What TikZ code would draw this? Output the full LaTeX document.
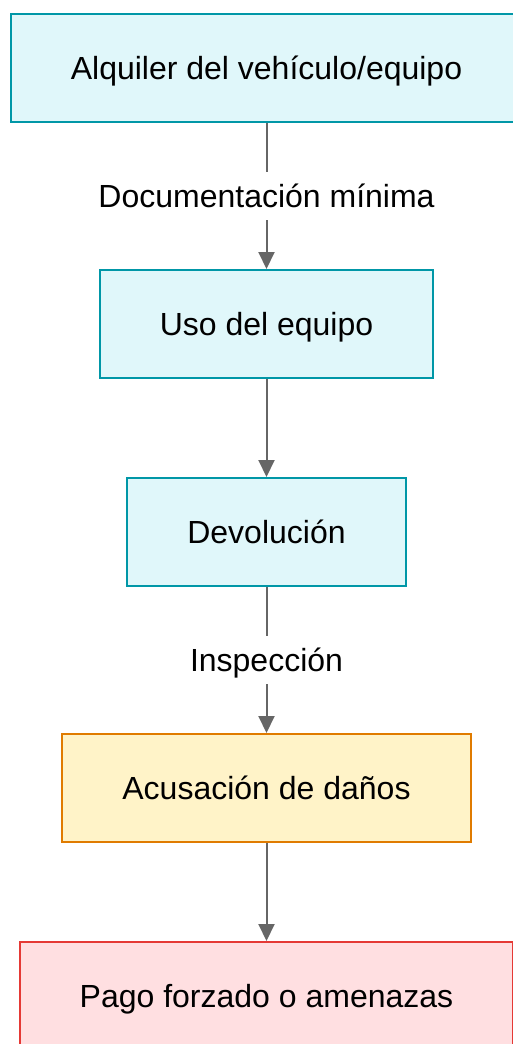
\documentclass[tikz,border=0pt]{standalone}
\usepackage{fontspec}
\setmainfont{Liberation Sans}
\usetikzlibrary{arrows.meta}
\definecolor{cyanfill}{HTML}{E0F7FA}
\definecolor{cyanline}{HTML}{0097A7}
\definecolor{yelfill}{HTML}{FFF3C8}
\definecolor{yelline}{HTML}{E07B00}
\definecolor{redfill}{HTML}{FFDFE1}
\definecolor{redline}{HTML}{E53935}
\definecolor{arrowgray}{HTML}{666666}
\tikzset{
  x=1pt, y=-1pt,
  box/.style={draw, line width=2pt, minimum height=108pt, inner sep=0pt, text height=22.9pt, text depth=0pt, font=\fontsize{32}{38}\selectfont},
  cyanbox/.style={box, draw=cyanline, fill=cyanfill},
  yelbox/.style={box, draw=yelline, fill=yelfill},
  redbox/.style={box, draw=redline, fill=redfill},
  conn/.style={draw=arrowgray, line width=2pt, -{Triangle[length=17pt,width=16pt]}},
  elabel/.style={fill=white, font=\fontsize{32}{38}\selectfont, text height=22.9pt, text depth=0pt, inner xsep=2pt, inner ysep=12.5pt}
}
\begin{document}
\begin{tikzpicture}
\useasboundingbox (0,0) rectangle (513,1044);
\clip (0,0) rectangle (513,1044);
\node[cyanbox, minimum width=511pt] (a) at (266.5,68) {Alquiler del vehículo/equipo};
\node[cyanbox, minimum width=333pt] (b) at (266.5,324) {Uso del equipo};
\node[cyanbox, minimum width=279pt] (c) at (266.5,532) {Devolución};
\node[yelbox, minimum width=409pt] (d) at (266.5,788) {Acusación de daños};
\node[redbox, minimum width=493pt] (e) at (266.5,996) {Pago forzado o amenazas};
\draw[conn] (a) -- node[elabel] (la) {Documentación mínima} (b);
\draw[conn] (b) -- (c);
\draw[conn] (c) -- node[elabel] (lc) {Inspección} (d);
\draw[conn] (d) -- (e);
\end{tikzpicture}
\end{document}
